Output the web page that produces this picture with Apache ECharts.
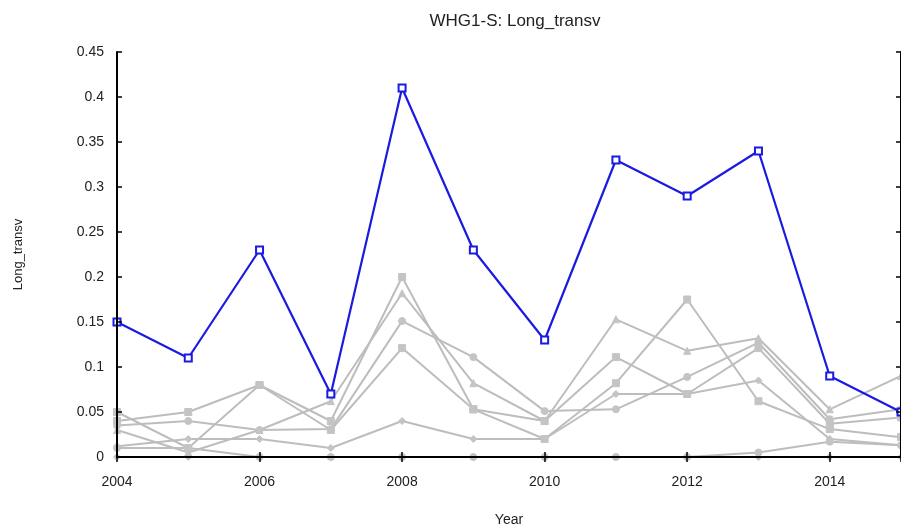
<!DOCTYPE html>
<html>
<head>
<meta charset="utf-8">
<script src="https://cdn.jsdelivr.net/npm/echarts@6/dist/echarts.min.js"></script>
<style>html,body{margin:0;padding:0;background:#fff;overflow:hidden;}#c{width:901px;height:532px;}</style>
</head>
<body>
<div id="c"></div>
<script>
const years = [2004, 2005, 2006, 2007, 2008, 2009, 2010, 2011, 2012, 2013, 2014, 2015];
const mainSeries = [0.15, 0.11, 0.23, 0.07, 0.41, 0.23, 0.13, 0.33, 0.29, 0.34, 0.09, 0.05];
const gray1 = [0.05, 0.01, 0.08, 0.04, 0.20, 0.053, 0.04, 0.111, 0.07, 0.121, 0.037, 0.044];
const gray2 = [0.04, 0.05, 0.08, 0.03, 0.121, 0.053, 0.02, 0.082, 0.175, 0.062, 0.031, 0.022];
const gray3 = [0.035, 0.04, 0.03, 0.031, 0.151, 0.111, 0.051, 0.053, 0.089, 0.127, 0.042, 0.053];
const gray4 = [0.03, 0.005, 0.03, 0.062, 0.182, 0.082, 0.04, 0.153, 0.118, 0.132, 0.053, 0.09];
const gray5 = [0.012, 0.02, 0.02, 0.01, 0.04, 0.02, 0.02, 0.07, 0.07, 0.085, 0.02, 0.013];
const gray6 = [0.01, 0.01, 0, 0, 0, 0, 0, 0, 0, 0.005, 0.017, 0.013];
const gray7 = [0, 0, 0, 0, 0, 0, 0, 0, 0, 0, 0, 0];
const grays = [gray1, gray2, gray3, gray4, gray5, gray6, gray7];
const grayMarkers = ['rect', 'rect', 'circle', 'triangle', 'diamond', 'circle', 'diamond'];

const FONT = 'Liberation Sans, Arial, sans-serif';
const pairs = arr => years.map((y, i) => [y, arr[i]]);

const series = grays.map((g, k) => ({
  type: 'line', data: pairs(g), symbol: grayMarkers[k], symbolSize: 7,
  lineStyle: { color: '#bdbdbd', width: 2 },
  itemStyle: { color: '#c4c4c4', borderColor: '#c4c4c4' },
  z: 2, silent: true, animation: false
}));
series.push({
  type: 'line', data: pairs(mainSeries), symbol: 'rect', symbolSize: 7,
  lineStyle: { color: '#1a1ae0', width: 2.2 },
  itemStyle: { color: '#ffffff', borderColor: '#1a1ae0', borderWidth: 2 },
  z: 5, animation: false
});

const axisLineStyle = { show: true, lineStyle: { color: '#000', width: 2 } };
const tickStyle = { show: true, inside: true, length: 5, lineStyle: { color: '#000', width: 1.5 } };

const option = {
  backgroundColor: '#fff',
  animation: false,
  title: {
    text: 'WHG1-S: Long_transv', left: 510, top: 8, textAlign: 'center',
    textStyle: { fontFamily: FONT, fontSize: 17, fontWeight: 'normal', color: '#222' }
  },
  grid: { left: 117, top: 52, right: 0, bottom: 71, containLabel: false },
  xAxis: [{
    type: 'value', min: 2004, max: 2015, interval: 2, z: 10,
    name: 'Year', nameLocation: 'middle', nameGap: 56,
    nameTextStyle: { fontFamily: FONT, fontSize: 14, color: '#222' },
    axisLine: axisLineStyle, axisTick: tickStyle, splitLine: { show: false },
    axisLabel: { fontFamily: FONT, fontSize: 14, color: '#222', margin: 18, showMaxLabel: false,
      formatter: v => String(v) }
  }, {
    type: 'value', min: 2004, max: 2015, interval: 2, position: 'top', z: 10,
    axisLine: axisLineStyle, axisTick: tickStyle, axisLabel: { show: false }, splitLine: { show: false }
  }],
  yAxis: [{
    type: 'value', min: 0, max: 0.45, interval: 0.05, z: 10,
    name: 'Long_transv', nameLocation: 'middle', nameGap: 92, nameRotate: 90,
    nameTextStyle: { fontFamily: FONT, fontSize: 13, color: '#222' },
    axisLine: axisLineStyle, axisTick: tickStyle, splitLine: { show: false },
    axisLabel: { fontFamily: FONT, fontSize: 14, color: '#222', margin: 13,
      formatter: v => String(parseFloat(v.toFixed(2))) }
  }, {
    type: 'value', min: 0, max: 0.45, interval: 0.05, position: 'right', z: 10,
    axisLine: axisLineStyle, axisTick: tickStyle, axisLabel: { show: false }, splitLine: { show: false }
  }],
  series: series
};
const chart = echarts.init(document.getElementById('c'), null, { renderer: 'canvas' });
chart.setOption(option);
</script>
</body>
</html>
